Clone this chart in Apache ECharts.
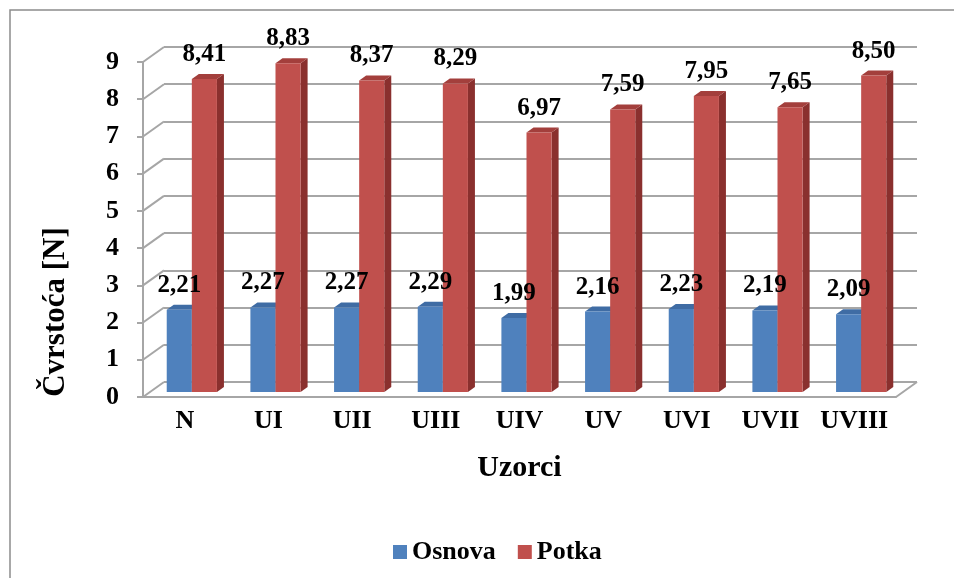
<!DOCTYPE html>
<html>
<head>
<meta charset="utf-8">
<script src="https://cdn.jsdelivr.net/npm/echarts@6/dist/echarts.min.js"></script>
<style>html,body{margin:0;padding:0;background:#fff;}#c{width:954px;height:578px;}</style>
</head>
<body>
<div id="c"></div>
<script>
const categories = ['N', 'UI', 'UII', 'UIII', 'UIV', 'UV', 'UVI', 'UVII', 'UVIII'];
const osnova = [2.21, 2.27, 2.27, 2.29, 1.99, 2.16, 2.23, 2.19, 2.09];
const potka = [8.41, 8.83, 8.37, 8.29, 6.97, 7.59, 7.95, 7.65, 8.50];
const yTicks = [0, 1, 2, 3, 4, 5, 6, 7, 8, 9];

const FONT = "'Liberation Serif', 'Times New Roman', serif";
const GRID_COLOR = '#a6a6a6';
const WALL = { x: 21, y: -15 };   // back-wall depth offset
const BAR_D = { x: 7, y: -5 };    // bar depth offset

const fmt = v => v.toFixed(2).replace('.', ',');

function barRenderer(side, front, sideC, topC) {
  return function (params, api) {
    const idx = api.value(0), v = api.value(1);
    const top = api.coord([idx, v]);
    const base = api.coord([idx, 0]);
    const w = api.size([1, 0])[0] * 0.3;
    const x0 = side < 0 ? top[0] - w : top[0];
    const x1 = x0 + w;
    const yt = top[1], yb = base[1];
    return {
      type: 'group',
      children: [
        { type: 'polygon', shape: { points: [[x1, yb], [x1 + BAR_D.x, yb + BAR_D.y], [x1 + BAR_D.x, yt + BAR_D.y], [x1, yt]] }, style: { fill: sideC } },
        { type: 'polygon', shape: { points: [[x0, yt], [x0 + BAR_D.x, yt + BAR_D.y], [x1 + BAR_D.x, yt + BAR_D.y], [x1, yt]] }, style: { fill: topC } },
        { type: 'rect', shape: { x: x0, y: yt, width: w, height: yb - yt }, style: { fill: front } }
      ]
    };
  };
}

function labelRenderer(side) {
  return function (params, api) {
    const idx = api.value(0), v = api.value(1);
    const top = api.coord([idx, v]);
    const w = api.size([1, 0])[0] * 0.3;
    const cx = side < 0 ? top[0] - w / 2 : top[0] + w / 2;
    return {
      type: 'text',
      style: {
        text: fmt(v), x: cx, y: top[1] - 12,
        align: 'center', verticalAlign: 'bottom',
        font: 'bold 25px ' + FONT, fill: '#000'
      }
    };
  };
}

const chart = echarts.init(document.getElementById('c'), null, { renderer: 'canvas' });
chart.setOption({
  animation: false,
  backgroundColor: '#fff',
  grid: [
    { left: 143, width: 753, top: 62, height: 335 },   // front axes
    { left: 164, width: 753, top: 47, height: 335 },   // back wall
    { left: 150, width: 753, top: 57, height: 335 }    // bars
  ],
  xAxis: [
    {
      gridIndex: 0, type: 'category', data: categories,
      axisLine: { lineStyle: { color: GRID_COLOR, width: 2 } },
      axisTick: { length: 6, lineStyle: { color: GRID_COLOR, width: 2 } },
      axisLabel: { interval: 0, color: '#000', fontFamily: FONT, fontWeight: 'bold', fontSize: 26, margin: 11 },
      name: 'Uzorci', nameLocation: 'middle', nameGap: 56,
      nameTextStyle: { color: '#000', fontFamily: FONT, fontWeight: 'bold', fontSize: 30 }
    },
    { gridIndex: 1, type: 'category', data: categories, show: false },
    { gridIndex: 2, type: 'category', data: categories, show: false }
  ],
  yAxis: [
    {
      gridIndex: 0, type: 'value', min: 0, max: 9, interval: 1,
      axisLine: { show: true, lineStyle: { color: GRID_COLOR, width: 2 } },
      axisTick: { show: true, length: 6, lineStyle: { color: GRID_COLOR, width: 2 } },
      axisLabel: { color: '#000', fontFamily: FONT, fontWeight: 'bold', fontSize: 26, margin: 24 },
      splitLine: { show: false }
    },
    {
      gridIndex: 1, type: 'value', min: 0, max: 9, interval: 1,
      axisLine: { show: false }, axisTick: { show: false }, axisLabel: { show: false },
      splitLine: { show: true, lineStyle: { color: GRID_COLOR, width: 2 } }
    },
    { gridIndex: 2, type: 'value', min: 0, max: 9, interval: 1, show: false, splitLine: { show: false } }
  ],
  legend: {
    data: ['Osnova', 'Potka'], left: 388, top: 534,
    icon: 'rect', itemWidth: 14, itemHeight: 14, itemGap: 22,
    textStyle: { color: '#000', fontFamily: FONT, fontWeight: 'bold', fontSize: 26 }
  },
  graphic: [
    { type: 'polyline', silent: true, shape: { points: [[10, 578], [10, 10], [954, 10]] }, style: { stroke: '#8c8c8c', lineWidth: 1.5, fill: null } },
    {
      type: 'text', x: 56, y: 312, rotation: Math.PI / 2, silent: true,
      style: { text: 'Čvrstoća [N]', font: 'bold 31px ' + FONT, fill: '#000', align: 'center', verticalAlign: 'middle' }
    }
  ],
  series: [
    {
      type: 'custom', name: 'walls', xAxisIndex: 0, yAxisIndex: 0, silent: true,
      data: yTicks.map(v => [0, v]), encode: { x: 0, y: 1 },
      renderItem: function (params, api) {
        const cs = params.coordSys;
        const v = api.value(1);
        const y = api.coord([0, v])[1];
        const ls = { stroke: GRID_COLOR, lineWidth: 2 };
        const children = [{ type: 'line', shape: { x1: cs.x, y1: y, x2: cs.x + WALL.x, y2: y + WALL.y }, style: ls }];
        if (v === 0) {
          children.push({ type: 'line', shape: { x1: cs.x + cs.width, y1: y, x2: cs.x + cs.width + WALL.x, y2: y + WALL.y }, style: ls });
        }
        return { type: 'group', children: children };
      }
    },
    {
      type: 'custom', name: 'Osnova', xAxisIndex: 2, yAxisIndex: 2, z: 3,
      itemStyle: { color: '#4F81BD' },
      data: osnova.map((v, i) => [i, v]), encode: { x: 0, y: 1 },
      renderItem: barRenderer(-1, '#4F81BD', '#385E8E', '#3F6CA4')
    },
    {
      type: 'custom', name: 'Potka', xAxisIndex: 2, yAxisIndex: 2, z: 4,
      itemStyle: { color: '#C0504D' },
      data: potka.map((v, i) => [i, v]), encode: { x: 0, y: 1 },
      renderItem: barRenderer(1, '#C0504D', '#8A302E', '#A33F3C')
    },
    {
      type: 'custom', name: 'lblO', xAxisIndex: 2, yAxisIndex: 2, z: 10, silent: true,
      data: osnova.map((v, i) => [i, v]), encode: { x: 0, y: 1 },
      renderItem: labelRenderer(-1)
    },
    {
      type: 'custom', name: 'lblP', xAxisIndex: 2, yAxisIndex: 2, z: 10, silent: true,
      data: potka.map((v, i) => [i, v]), encode: { x: 0, y: 1 },
      renderItem: labelRenderer(1)
    }
  ]
});
</script>
</body>
</html>
